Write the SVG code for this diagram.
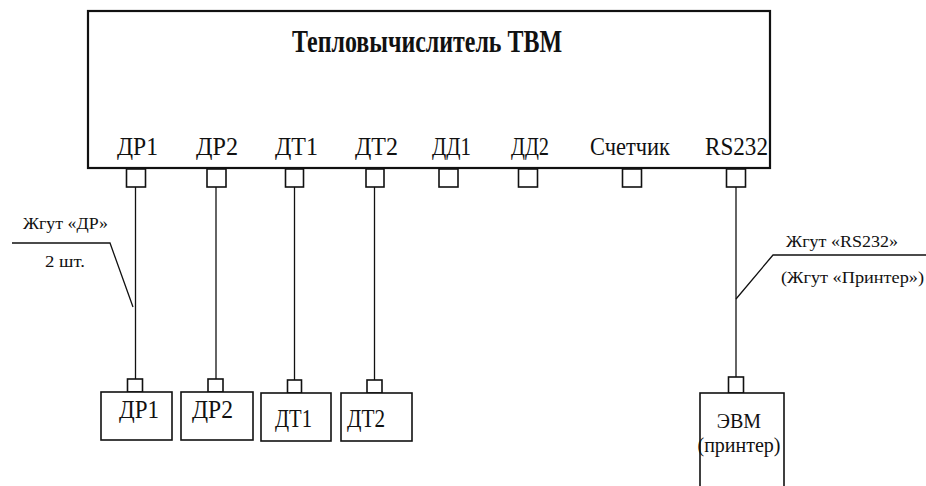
<svg xmlns="http://www.w3.org/2000/svg" width="926" height="486" viewBox="0 0 926 486" font-family="Liberation Serif, DejaVu Serif, serif">
<style>
text{font-family:'Liberation Serif','DejaVu Serif',serif;fill:#111}
.box{fill:#fff;stroke:#111;stroke-width:1.6}
.main{fill:#fff;stroke:#111;stroke-width:2.2}
.port{fill:#fff;stroke:#111;stroke-width:1.6}
.wire{fill:none;stroke:#111;stroke-width:1.3}
.pl{font-size:25px}
.bl{font-size:25px}
.sm{font-size:17px}
</style>
<rect width="926" height="486" fill="#fff"/>
<g id="connectors">
<line class="wire" x1="135.5" y1="187" x2="135.5" y2="379"/>
<line class="wire" x1="216" y1="187" x2="216" y2="379"/>
<line class="wire" x1="294.5" y1="187" x2="294.5" y2="380"/>
<line class="wire" x1="374.5" y1="187" x2="374.5" y2="380"/>
<line class="wire" x1="736" y1="187" x2="736" y2="377"/>
<polyline class="wire" points="12,243 110,243 133,307"/>
<polyline class="wire" points="926,255 773,255 736,299"/>
</g>
<g id="tvm">
<rect class="main" x="88" y="11" width="682" height="157"/>
<text x="292" y="52" font-family="Liberation Serif, serif" font-size="32" font-weight="bold" textLength="270" lengthAdjust="spacingAndGlyphs">Тепловычислитель ТВМ</text>
<text class="pl" x="117" y="155" textLength="41" lengthAdjust="spacingAndGlyphs">ДР1</text>
<text class="pl" x="196" y="155" textLength="42" lengthAdjust="spacingAndGlyphs">ДР2</text>
<text class="pl" x="275" y="155" textLength="43" lengthAdjust="spacingAndGlyphs">ДТ1</text>
<text class="pl" x="355" y="155" textLength="43" lengthAdjust="spacingAndGlyphs">ДТ2</text>
<text class="pl" x="432" y="155" textLength="39" lengthAdjust="spacingAndGlyphs">ДД1</text>
<text class="pl" x="511" y="155" textLength="38" lengthAdjust="spacingAndGlyphs">ДД2</text>
<text class="pl" x="590" y="155" textLength="80" lengthAdjust="spacingAndGlyphs">Счетчик</text>
<text class="pl" x="705" y="155" textLength="63" lengthAdjust="spacingAndGlyphs">RS232</text>
<rect class="port" x="126.5" y="169" width="19" height="18"/>
<rect class="port" x="207" y="169" width="19" height="18"/>
<rect class="port" x="285.5" y="169" width="18" height="18"/>
<rect class="port" x="366" y="169" width="18" height="18"/>
<rect class="port" x="439" y="169" width="19" height="18"/>
<rect class="port" x="518.5" y="169" width="19" height="18"/>
<rect class="port" x="622.5" y="169" width="19" height="18"/>
<rect class="port" x="726.5" y="169" width="19" height="18"/>
</g>
<g id="dr1">
<rect class="port" x="127.5" y="379" width="15" height="13"/>
<rect class="box" x="101" y="392" width="71" height="48"/>
<text class="bl" x="119" y="418" textLength="40" lengthAdjust="spacingAndGlyphs">ДР1</text>
</g>
<g id="dr2">
<rect class="port" x="208" y="379" width="15" height="13"/>
<rect class="box" x="181" y="392" width="72" height="48"/>
<text class="bl" x="192" y="418" textLength="41" lengthAdjust="spacingAndGlyphs">ДР2</text>
</g>
<g id="dt1">
<rect class="port" x="287.5" y="380" width="14" height="13"/>
<rect class="box" x="261" y="393" width="70" height="48"/>
<text class="bl" x="275" y="427" textLength="37" lengthAdjust="spacingAndGlyphs">ДТ1</text>
</g>
<g id="dt2">
<rect class="port" x="367" y="380" width="15" height="13"/>
<rect class="box" x="341" y="393" width="71" height="48"/>
<text class="bl" x="347" y="427" textLength="38" lengthAdjust="spacingAndGlyphs">ДТ2</text>
</g>
<g id="evm">
<rect class="port" x="728.5" y="377" width="15" height="16"/>
<rect class="box" x="700" y="393" width="84" height="100"/>
<text x="739" y="428" font-size="20" text-anchor="middle">ЭВМ</text>
<text x="739" y="452" font-size="20" text-anchor="middle">(принтер)</text>
</g>
<g id="labels">
<text class="sm" x="23" y="229" textLength="85" lengthAdjust="spacingAndGlyphs">Жгут «ДР»</text>
<text class="sm" x="45" y="267" textLength="40" lengthAdjust="spacingAndGlyphs">2 шт.</text>
<text class="sm" x="786" y="247" textLength="112" lengthAdjust="spacingAndGlyphs">Жгут «RS232»</text>
<text class="sm" x="781" y="283" textLength="143" lengthAdjust="spacingAndGlyphs">(Жгут «Принтер»)</text>
</g>
</svg>
